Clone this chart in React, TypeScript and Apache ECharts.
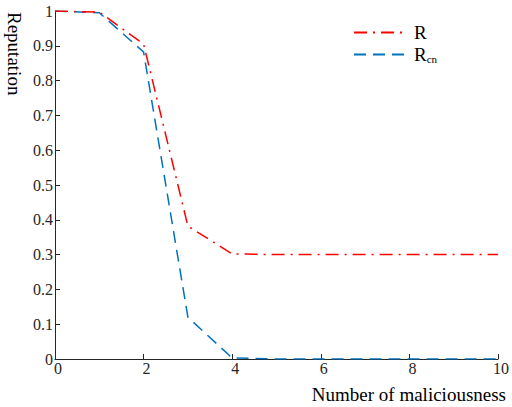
import React, { useEffect, useRef } from "react";
import * as echarts from "echarts";

const xValues = [0, 1, 2, 3, 4, 5, 6, 7, 8, 9, 10];
const rValues = [1, 0.997, 0.905, 0.382, 0.302, 0.3, 0.3, 0.3, 0.3, 0.3, 0.3];
const rcnValues = [1, 0.995, 0.882, 0.12, 0.003, 0, 0, 0, 0, 0, 0];
const seriesNames = ["R", "Rcn"];

const FONT = "Liberation Serif";

export default function App() {
  const ref = useRef<HTMLDivElement>(null);
  useEffect(() => {
    if (!ref.current) return;
    const chart = echarts.init(ref.current, null, { renderer: "svg" });
    const axisColor = "#262626";
    chart.setOption({
      animation: false,
      backgroundColor: "#ffffff",
      textStyle: { fontFamily: FONT },
      grid: { left: 55, right: 13, top: 11, bottom: 48, containLabel: false },
      legend: {
        orient: "vertical",
        left: 353,
        top: 23,
        padding: 0,
        itemWidth: 51,
        itemHeight: 14,
        itemGap: 3,
        itemStyle: { opacity: 0 },
        data: seriesNames,
        formatter: (name: string) => (name === "Rcn" ? "{a|R}{s|cn}" : "{a|R}"),
        textStyle: {
          fontFamily: FONT,
          color: "#000",
          rich: {
            a: { fontFamily: FONT, fontSize: 19, color: "#000", padding: [0, 0, 0, 4] },
            s: { fontFamily: FONT, fontSize: 11, color: "#000", verticalAlign: "bottom", padding: [8, 0, 0, 0] },
          },
        },
      },
      xAxis: {
        type: "value",
        min: 0,
        max: 10,
        interval: 2,
        name: "Number of maliciousness",
        nameLocation: "end",
        nameGap: 8,
        nameTextStyle: {
          fontFamily: FONT,
          fontSize: 19,
          color: "#000",
          align: "right",
          verticalAlign: "top",
          padding: [26, 0, 0, 0],
        },
        axisLine: { show: true, lineStyle: { color: axisColor, width: 1 } },
        axisTick: { show: true, inside: true, length: 5, lineStyle: { color: axisColor } },
        axisLabel: { fontFamily: FONT, fontSize: 16, color: axisColor, margin: 1, padding: [0, 0, 0, 6] },
        splitLine: { show: false },
      },
      yAxis: {
        type: "value",
        min: 0,
        max: 1,
        interval: 0.1,
        axisLine: { show: true, lineStyle: { color: axisColor, width: 1 } },
        axisTick: { show: true, inside: true, length: 5, lineStyle: { color: axisColor } },
        axisLabel: {
          fontFamily: FONT,
          fontSize: 16,
          color: axisColor,
          margin: 2,
          formatter: (v: number) => String(Math.round(v * 10) / 10),
        },
        splitLine: { show: false },
      },
      graphic: [
        {
          type: "text",
          x: 24,
          y: 12,
          rotation: -Math.PI / 2,
          style: {
            text: "Reputation",
            fontFamily: FONT,
            fontSize: 19,
            fill: "#000",
            textAlign: "left",
            textVerticalAlign: "top",
          },
        },
      ],
      series: [
        {
          name: "R",
          type: "line",
          symbol: "none",
          data: xValues.map((x, i) => [x, rValues[i]]),
          lineStyle: { color: "#FF0000", width: 1.5, type: [13, 6, 2, 6] },
          itemStyle: { color: "#FF0000" },
          z: 3,
        },
        {
          name: "Rcn",
          type: "line",
          symbol: "none",
          data: xValues.map((x, i) => [x, rcnValues[i]]),
          lineStyle: { color: "#0072BD", width: 1.5, type: [12, 7] },
          itemStyle: { color: "#0072BD" },
          z: 2,
        },
      ],
    });
    return () => chart.dispose();
  }, []);
  return <div ref={ref} style={{ width: 512, height: 407, position: "absolute", left: 0, top: 0 }} />;
}
